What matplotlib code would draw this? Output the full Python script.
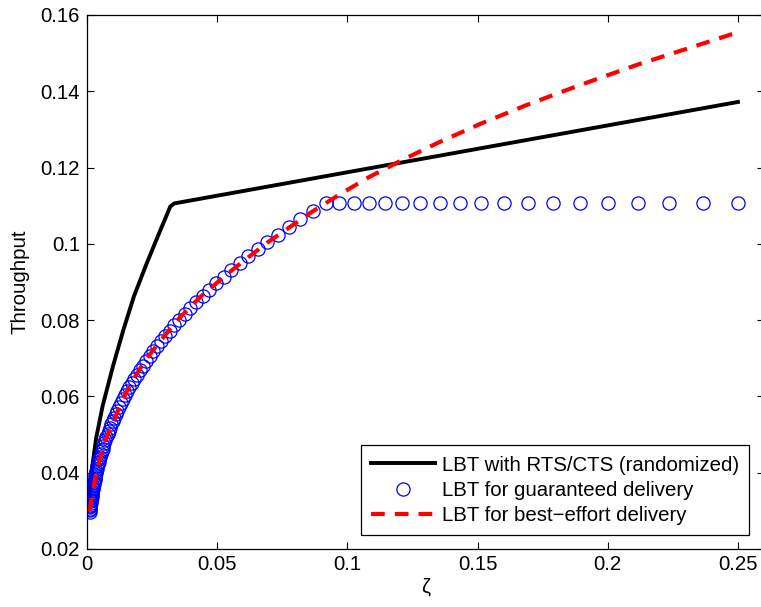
import matplotlib
matplotlib.use("Agg")
import matplotlib.pyplot as plt

plt.rcParams['font.family'] = ['Liberation Sans', 'DejaVu Sans']

# LBT with RTS/CTS (randomized)
rtsX = [0.0010, 0.0020, 0.0035, 0.0060, 0.0100, 0.0140, 0.0180, 0.0230,
        0.0280, 0.0320, 0.0335, 0.2500]
rtsY = [0.0335, 0.0415, 0.0490, 0.0575, 0.0680, 0.0775, 0.0862, 0.0950,
        0.1033, 0.1098, 0.1106, 0.1372]

# LBT for guaranteed delivery (circles)
guarX = [0.001000, 0.001057, 0.001118, 0.001182, 0.001250, 0.001322, 0.001397, 0.001478, 0.001562, 0.001652,
         0.001747, 0.001847, 0.001953, 0.002065, 0.002183, 0.002309, 0.002441, 0.002581, 0.002729, 0.002886,
         0.003051, 0.003226, 0.003411, 0.003607, 0.003814, 0.004032, 0.004264, 0.004508, 0.004767, 0.005040,
         0.005329, 0.005635, 0.005958, 0.006300, 0.006661, 0.007043, 0.007447, 0.007874, 0.008326, 0.008804,
         0.009308, 0.009843, 0.01041, 0.01100, 0.01164, 0.01230, 0.01301, 0.01375, 0.01454, 0.01538,
         0.01626, 0.01719, 0.01818, 0.01922, 0.02032, 0.02149, 0.02272, 0.02402, 0.02540, 0.02686,
         0.02840, 0.03003, 0.03175, 0.03357, 0.03550, 0.03754, 0.03969, 0.04196, 0.04437, 0.04692,
         0.04960, 0.05245, 0.05546, 0.05864, 0.06201, 0.06556, 0.06932, 0.07330, 0.07750, 0.08195,
         0.08664, 0.09162, 0.09687, 0.1024, 0.1083, 0.1145, 0.1211, 0.1280, 0.1354, 0.1431,
         0.1513, 0.1600, 0.1692, 0.1789, 0.1892, 0.2000, 0.2115, 0.2236, 0.2365, 0.2500]
guarY = [0.02979, 0.03014, 0.03051, 0.03089, 0.03127, 0.03166, 0.03206, 0.03247, 0.03289, 0.03332,
         0.03376, 0.03420, 0.03466, 0.03513, 0.03561, 0.03610, 0.03660, 0.03711, 0.03764, 0.03817,
         0.03872, 0.03928, 0.03985, 0.04044, 0.04104, 0.04165, 0.04227, 0.04291, 0.04357, 0.04424,
         0.04492, 0.04562, 0.04634, 0.04707, 0.04782, 0.04858, 0.04937, 0.05017, 0.05098, 0.05182,
         0.05268, 0.05355, 0.05444, 0.05536, 0.05630, 0.05725, 0.05823, 0.05923, 0.06025, 0.06130,
         0.06237, 0.06346, 0.06458, 0.06572, 0.06689, 0.06809, 0.06931, 0.07056, 0.07184, 0.07314,
         0.07448, 0.07585, 0.07725, 0.07868, 0.08014, 0.08163, 0.08316, 0.08472, 0.08632, 0.08795,
         0.08962, 0.09133, 0.09308, 0.09486, 0.09669, 0.09856, 0.10047, 0.10242, 0.10442, 0.10646,
         0.10855, 0.1106, 0.1106, 0.1106, 0.1106, 0.1106, 0.1106, 0.1106, 0.1106, 0.1106,
         0.1106, 0.1106, 0.1106, 0.1106, 0.1106, 0.1106, 0.1106, 0.1106, 0.1106, 0.1106]

# LBT for best-effort delivery (dashed)
bestX = [0.0010, 0.0014, 0.0020, 0.0031, 0.0045, 0.0069, 0.0101, 0.0133, 0.0171, 0.0223,
         0.0280, 0.0350, 0.0434, 0.0494, 0.0555, 0.0622, 0.0696, 0.0777, 0.0866, 0.0969,
         0.1083, 0.1211, 0.1354, 0.1512, 0.1692, 0.1892, 0.2115, 0.2365, 0.2500]
bestY = [0.0298, 0.0318, 0.0340, 0.0383, 0.0425, 0.0483, 0.0533, 0.0586, 0.0637, 0.0694,
         0.0744, 0.0802, 0.0860, 0.0895, 0.0930, 0.0966, 0.1005, 0.1043, 0.1085, 0.1129,
         0.1175, 0.1220, 0.1267, 0.1315, 0.1365, 0.1416, 0.1470, 0.1525, 0.1555]

xTicks = [0, 0.05, 0.1, 0.15, 0.2, 0.25]
xTickLabels = ['0', '0.05', '0.1', '0.15', '0.2', '0.25']
yTicks = [0.02, 0.04, 0.06, 0.08, 0.1, 0.12, 0.14, 0.16]
yTickLabels = ['0.02', '0.04', '0.06', '0.08', '0.1', '0.12', '0.14', '0.16']

fs = 14.7

fig = plt.figure(figsize=(7.61, 6.07), dpi=100)
ax = fig.add_axes([87/761, 58/607, 677/761, 534/607])

ax.plot(rtsX, rtsY, color='black', lw=2.8, label='LBT with RTS/CTS (randomized)')
ax.plot(guarX, guarY, 'o', mfc='none', mec='blue', ms=9.5, mew=0.9, label='LBT for guaranteed delivery')
ax.plot(bestX, bestY, color='red', lw=3, dashes=(3.3, 2.4), label='LBT for best\u2212effort delivery')

ax.set_xlim(0, 0.26)
ax.set_ylim(0.02, 0.16)
ax.set_xticks(xTicks)
ax.set_xticklabels(xTickLabels)
ax.set_yticks(yTicks)
ax.set_yticklabels(yTickLabels)
ax.tick_params(direction='in', length=5, width=0.8, labelsize=fs, top=True, right=True)
ax.tick_params(axis='x', pad=4)
ax.tick_params(axis='y', pad=5)
for s in ax.spines.values():
    s.set_linewidth(0.9)
ax.spines['right'].set_visible(False)

ax.set_xlabel('\u03b6', fontsize=fs, labelpad=3)
ax.set_ylabel('Throughput', fontsize=fs, labelpad=8)

leg = ax.legend(loc='lower right', bbox_to_anchor=(749/761, 72/607), bbox_transform=fig.transFigure,
                borderaxespad=0, fontsize=fs, handlelength=3.1, labelspacing=0.3, handletextpad=0.35,
                fancybox=False, framealpha=1, edgecolor='black', borderpad=0.5)
leg.get_frame().set_linewidth(0.9)

fig.savefig('out.png', dpi=100)
